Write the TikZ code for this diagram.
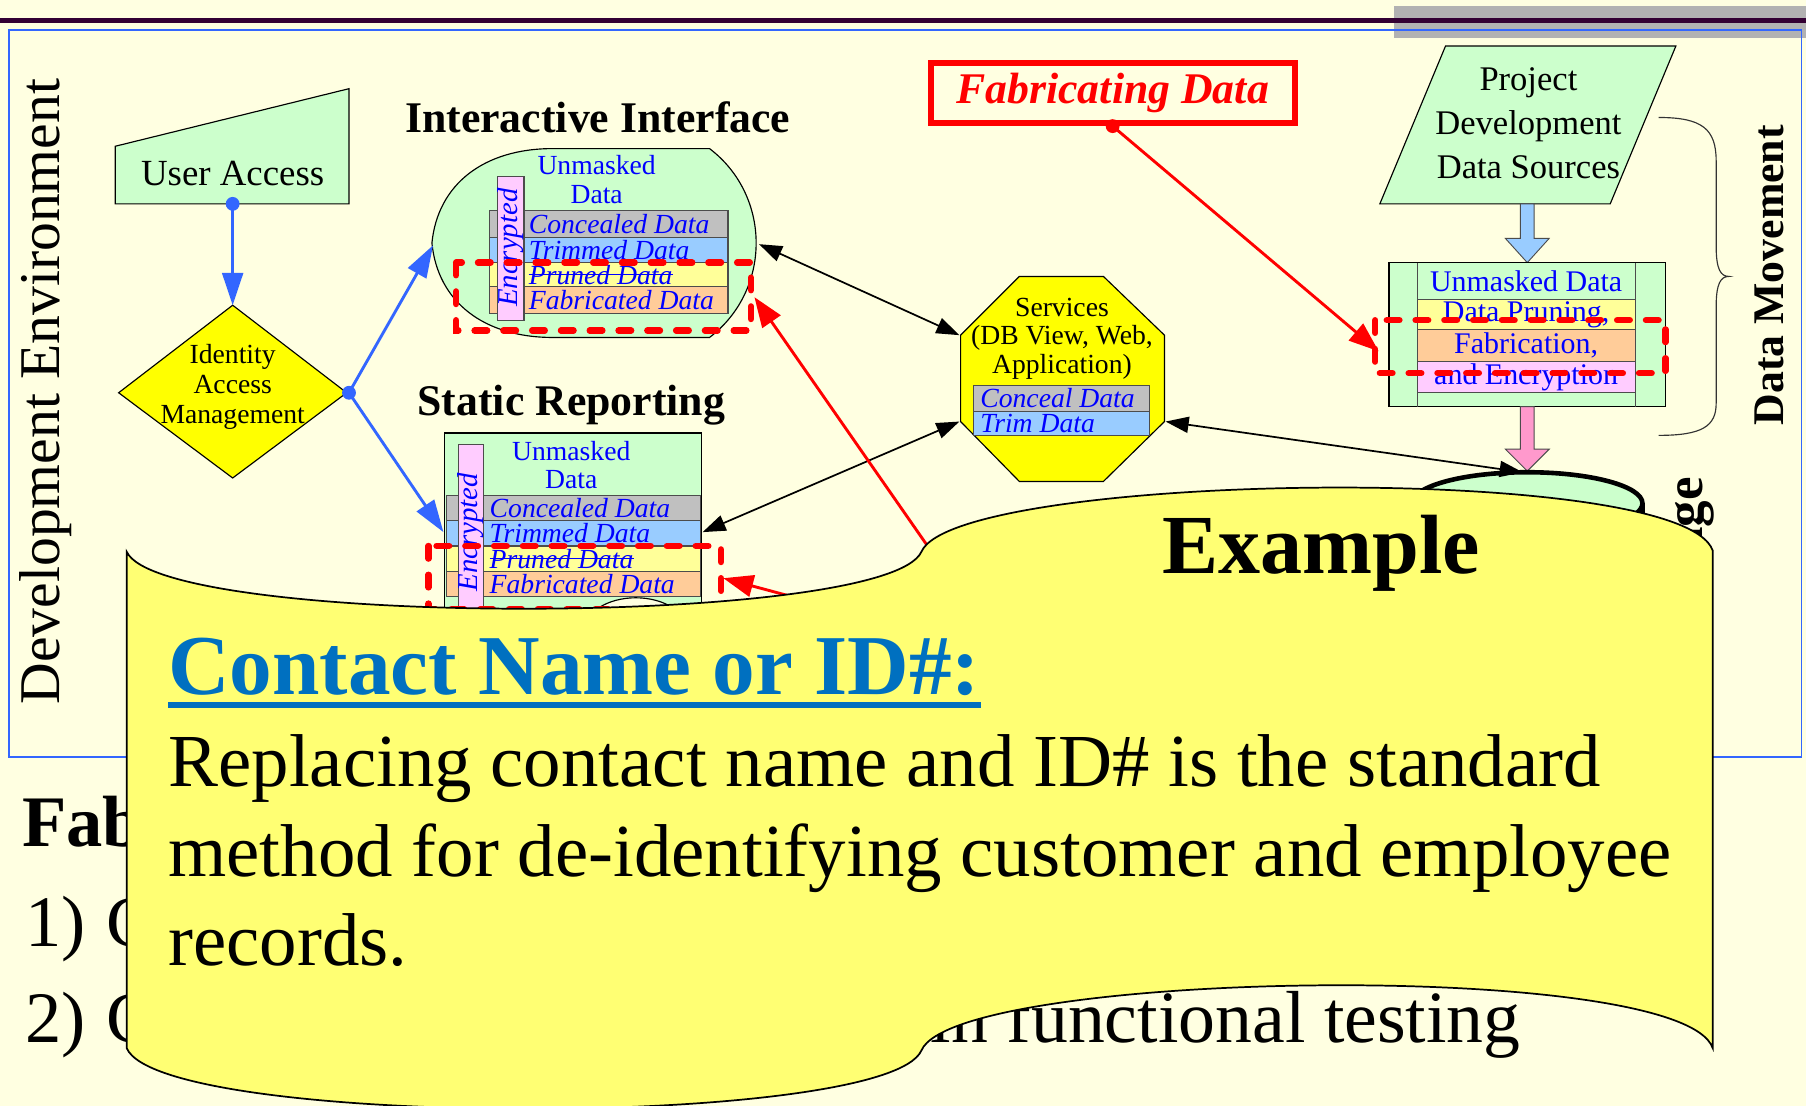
\documentclass[tikz,border=0pt]{standalone}
\usepackage{fontspec}
\setmainfont{Liberation Serif}
\usetikzlibrary{arrows.meta}
\definecolor{pagebg}{RGB}{255,255,225}
\definecolor{barpurple}{RGB}{51,0,51}
\definecolor{bandgray}{RGB}{178,178,178}
\definecolor{framebl}{RGB}{51,102,255}
\definecolor{mint}{RGB}{204,255,204}
\definecolor{dyellow}{RGB}{255,255,0}
\definecolor{rowgray}{RGB}{192,192,192}
\definecolor{rowblue}{RGB}{153,204,255}
\definecolor{rowyel}{RGB}{255,255,153}
\definecolor{rowpeach}{RGB}{255,204,153}
\definecolor{rowpink}{RGB}{255,204,255}
\definecolor{txtblue}{RGB}{0,0,255}
\definecolor{linkred}{RGB}{255,0,0}
\definecolor{calloutyel}{RGB}{255,255,115}
\definecolor{headblue}{RGB}{0,112,192}
\definecolor{pinkarrow}{RGB}{255,153,204}
\newcommand{\fsz}[2]{\fontsize{#1}{#2}\selectfont}
\tikzset{
  outline/.style={draw=black, line width=1pt},
  rowbox/.style={draw=black!70, line width=1pt},
  rowtxt/.style={anchor=west, inner sep=0pt, text=txtblue, font=\itshape\fsz{24}{26}},
  boxtxt/.style={inner sep=0pt, text=txtblue, font=\fsz{26}{28}},
  enctxt/.style={rotate=90, inner sep=0pt, text=txtblue, font=\itshape\fsz{25}{27}},
  reddash/.style={draw=linkred, line width=5.5pt, dash pattern=on 11pt off 14pt, line cap=round},
  bluearrow/.style={draw=framebl, line width=2.5pt, -{Triangle[length=28pt,width=18pt]}},
  redarrow/.style={draw=linkred, line width=2.5pt, -{Triangle[length=26pt,width=19pt]}},
  blackarrow/.style={draw=black, line width=1.5pt, {Triangle[length=20pt,width=14pt]}-{Triangle[length=20pt,width=14pt]}},
  bodytxt/.style={anchor=base west, inner sep=0pt, font=\fsz{65}{78}},
  titletxt/.style={font=\bfseries\fsz{38}{40}, inner sep=0pt}
}
\begin{document}
\begin{tikzpicture}[x=1pt,y=-1pt]
\useasboundingbox (0,0) rectangle (1568,960);
% page background, header band and rule
\fill[pagebg] (0,0) rectangle (1568,960);
\fill[bandgray] (1210,5) rectangle (1568,33);
\draw[barpurple, line width=4pt] (0,18) -- (1568,18);
\draw[framebl, line width=1.5pt] (8,26) rectangle (1564,657);

\node[rotate=90, font=\fsz{50}{60}] (devenv) at (40,340) {Development Environment};

% user access (manual input)
\draw[outline, fill=mint] (100,127) -- (303,77) -- (303,177) -- (100,177) -- cycle;
\node[font=\fsz{32}{36}] (ua) at (202,151) {User Access};
\coordinate (uaB) at (202,177);

% identity access management (decision)
\draw[outline, fill=dyellow] (202,265) -- (301,341) -- (202,415) -- (103,341) -- cycle;
\node[align=center, font=\fsz{24}{26}] (iam) at (202,336) {Identity\\Access\\Management};
\coordinate (iamT) at (202,265);
\coordinate (iamR) at (303,341);

% interactive interface (display shape)
\node[titletxt] (iititle) at (519,102) {Interactive Interface};
\draw[outline, fill=mint] (375,211) .. controls (380,160) and (420,129) .. (480,129) -- (616,129)
  .. controls (670,170) and (670,252) .. (616,293) -- (480,293)
  .. controls (420,293) and (380,262) .. (375,211) -- cycle;
\coordinate (iiL) at (376,213);
\coordinate (iiR) at (659,212);
\node[align=center, text=txtblue, font=\fsz{24}{25}] (iiu) at (518,156) {Unmasked\\Data};
\draw[rowbox, fill=rowgray] (425,183) rectangle (632,206);
\draw[rowbox, fill=rowblue] (425,206) rectangle (632,228);
\draw[rowbox, fill=rowyel] (425,228) rectangle (632,249);
\draw[rowbox, fill=rowpeach] (425,249) rectangle (632,272);
\node[rowtxt] (iic) at (459,194.5) {Concealed Data};
\node[rowtxt] (iit) at (459,217) {Trimmed Data};
\node[rowtxt] (iip) at (459,238.5) {Pruned Data};
\draw[txtblue, line width=1.2pt] (iip.west) -- (iip.east);
\node[rowtxt] (iif) at (459,260.5) {Fabricated Data};
\draw[rowbox, fill=rowpink] (432,153) rectangle (455,278);
\node[enctxt] (iienc) at (443.5,215) {Encrypted};
\draw[reddash] (396,228) rectangle (652,287);

% static reporting
\node[titletxt] (srtitle) at (496,352) {Static Reporting};
\draw[outline, fill=mint] (386,376) rectangle (609,570);
\coordinate (srL) at (385,462);
\coordinate (srR) at (610,462);
\node[align=center, text=txtblue, font=\fsz{24}{24}] (sru) at (496,404) {Unmasked\\Data};
\draw[rowbox, fill=rowgray] (388,430) rectangle (608,452);
\draw[rowbox, fill=rowblue] (388,452) rectangle (608,474);
\draw[rowbox, fill=rowyel] (388,474) rectangle (608,496);
\draw[rowbox, fill=rowpeach] (388,496) rectangle (608,518);
\node[rowtxt] (src) at (425,441) {Concealed Data};
\node[rowtxt] (srt) at (425,463) {Trimmed Data};
\node[rowtxt] (srp) at (425,485) {Pruned Data};
\draw[txtblue, line width=1.2pt] (srp.west) -- (srp.east);
\node[rowtxt] (srf) at (425,507) {Fabricated Data};
\draw[rowbox, fill=rowpink] (398,386) rectangle (420,545);
\node[enctxt] (srenc) at (409,462) {Encrypted};
\draw[outline, fill=pagebg] (552,548) ellipse [x radius=45pt, y radius=29pt];
\draw[reddash] (372,474) rectangle (626,529);

% services (octagon)
\draw[outline, fill=dyellow] (885,240) -- (958,240) -- (1011,291) -- (1011,366) -- (958,418)
  -- (885,418) -- (834,366) -- (834,291) -- cycle;
\node[align=center, font=\fsz{24}{25}] (svc) at (922,294) {Services\\(DB View, Web,\\Application)};
\draw[rowbox, fill=rowgray] (845,335) rectangle (998,357);
\draw[rowbox, fill=rowblue] (845,357) rectangle (998,378);
\node[rowtxt] (svcc) at (851,346) {Conceal Data};
\node[rowtxt] (svct) at (851,367.5) {Trim Data};
\coordinate (svcUL) at (833,291);
\coordinate (svcLL) at (833,366);
\coordinate (svcLR) at (1012,366);

% fabricating data label
\node[draw=linkred, line width=5pt, fill=pagebg, minimum width=316pt, minimum height=52pt,
  text=linkred, font=\bfseries\itshape\fsz{38}{40}] (fab) at (966,81) {Fabricating Data};

% project development data sources
\draw[outline, fill=mint] (1255,40) -- (1455,40) -- (1398,177) -- (1198,177) -- cycle;
\node[align=center, font=\fsz{30}{38}] (pds) at (1327,107) {Project\\Development\\Data Sources};
\draw[draw=black!70, line width=0.8pt, fill=rowblue] (1320,177) -- (1332,177) -- (1332,207) -- (1345,207)
  -- (1326,228) -- (1307,207) -- (1320,207) -- cycle;

% data movement box
\draw[outline, fill=mint] (1206,228) rectangle (1446,353);
\draw[rowbox] (1231,228) -- (1231,353);
\draw[rowbox] (1420,228) -- (1420,353);
\draw[rowbox, fill=rowyel] (1231,260) rectangle (1420,286);
\draw[rowbox, fill=rowpeach] (1231,286) rectangle (1420,314);
\draw[rowbox, fill=rowpink] (1231,314) rectangle (1420,341);
\node[boxtxt] (dmu) at (1325,244) {Unmasked Data};
\node[boxtxt] (dmp) at (1325,273) {Data Pruning,};
\node[boxtxt] (dmf) at (1325,300) {Fabrication,};
\node[boxtxt] (dme) at (1325,327.5) {and Encryption};
\draw[reddash] (1194,278) rectangle (1446,324);
\coordinate (dmL) at (1197,305);
\draw[draw=black!70, line width=0.8pt, fill=pinkarrow] (1320,353) -- (1332,353) -- (1332,390) -- (1345,390)
  -- (1326,409) -- (1307,390) -- (1320,390) -- cycle;

% storage cylinder
\draw[black, line width=4pt, fill=mint] (1226,437) -- (1226,600) -- (1426,600) -- (1426,437);
\draw[black, line width=4pt, fill=mint] (1326,437) ellipse [x radius=100pt, y radius=27pt];
\coordinate (stT) at (1322,410);
\node[rotate=90, anchor=base east, inner sep=0pt, font=\bfseries\fsz{46}{48}] (stor) at (1478,414) {Storage};

% data movement brace
\draw[black!80, line width=1pt] (1440,102) .. controls (1478,102) and (1490,112) .. (1490,140) -- (1490,214)
  .. controls (1490,234) and (1494,240) .. (1501,240) .. controls (1494,240) and (1490,246) .. (1490,266)
  -- (1490,350) .. controls (1490,370) and (1478,378) .. (1440,378);
\node[rotate=90, titletxt] (dmv) at (1536,239) {Data Movement};

% connectors
\fill[framebl] (uaB) circle (6pt);
\fill[framebl] (iamR) circle (6pt);
\draw[bluearrow] (uaB) -- (iamT);
\draw[bluearrow] (iamR) -- (iiL);
\draw[bluearrow] (iamR) -- (srL);
\draw[blackarrow] (iiR) -- (svcUL);
\draw[blackarrow] (svcLL) -- (srR);
\draw[blackarrow] (svcLR) -- (stT);
\fill[linkred] (fab.south) circle (6pt);
\draw[redarrow] (fab.south) -- (dmL);
\coordinate (fabsrc) at (870,567);
\draw[redarrow] (fabsrc) -- (655,258);
\draw[redarrow] (fabsrc) -- (628,502);

% text below the diagram
\node[anchor=base west, inner sep=0pt, font=\bfseries\fsz{63}{70}] (fabhead) at (19,735) {Fab};
\node[bodytxt, font=\fsz{63}{70}] (item1n) at (22,822) {1)};
\node[bodytxt, font=\fsz{63}{70}] (item1c) at (92,822) {C};
\node[bodytxt, font=\fsz{63}{70}] (item2n) at (22,905) {2)};
\node[bodytxt, font=\fsz{63}{70}] (item2c) at (92,905) {C};
\node[bodytxt, font=\fsz{64}{70}] (item2t) at (808,905) {in functional testing};

% example callout
\draw[black, line width=1.5pt, fill=calloutyel] (110,479) .. controls (140,545) and (770,545) .. (800,479)
  .. controls (830,410) and (1460,400) .. (1487,478) -- (1487,910)
  .. controls (1460,832) and (830,842) .. (800,912)
  .. controls (770,980) and (140,980) .. (110,910) -- cycle;
\node[anchor=base, inner sep=0pt, font=\bfseries\fsz{73}{80}] (ex) at (1147,498) {Example};
\node[anchor=base west, inner sep=0pt, text=headblue, font=\bfseries\fsz{74}{80}] (cn) at (146,603) {Contact Name or ID\#:};
\draw[headblue, line width=5pt] ([yshift=-9pt]cn.base west) -- ([yshift=-9pt]cn.base east);
\node[bodytxt] (b1) at (146,683) {Replacing contact name and ID\# is the standard};
\node[bodytxt] (b2) at (146,761) {method for de-identifying customer and employee};
\node[bodytxt] (b3) at (146,838) {records.};
\end{tikzpicture}
\end{document}
